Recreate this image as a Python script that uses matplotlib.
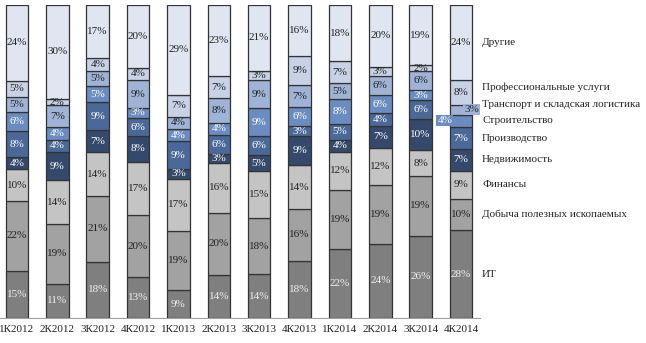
import matplotlib.pyplot as plt
import numpy as np

quarters = ['1К2012', '2К2012', '3К2012', '4К2012', '1К2013', '2К2013',
            '3К2013', '4К2013', '1К2014', '2К2014', '3К2014', '4К2014']

# sectors from bottom to top
sectors = ['ИТ', 'Добыча полезных ископаемых', 'Финансы', 'Недвижимость',
           'Производство', 'Строительство', 'Транспорт и складская логистика',
           'Профессиональные услуги', 'Другие']

it = [15, 11, 18, 13, 9, 14, 14, 18, 22, 24, 26, 28]
mining = [22, 19, 21, 20, 19, 20, 18, 16, 19, 19, 19, 10]
finance = [10, 14, 14, 17, 17, 16, 15, 14, 12, 12, 8, 9]
realty = [4, 9, 7, 8, 3, 3, 5, 9, 4, 7, 10, 7]
manufacturing = [8, 4, 9, 6, 9, 6, 6, 3, 5, 4, 6, 7]
construction = [6, 4, 5, 3, 4, 4, 9, 6, 8, 6, 3, 4]
transport = [5, 7, 5, 9, 4, 8, 9, 7, 5, 6, 6, 3]
professional = [5, 2, 4, 4, 7, 7, 3, 9, 7, 3, 2, 8]
other = [24, 30, 17, 20, 29, 23, 21, 16, 18, 20, 19, 24]

series = [it, mining, finance, realty, manufacturing, construction,
          transport, professional, other]
colors = ['#7f7f7f', '#a2a2a2', '#c4c4c4', '#34496c', '#4a6898',
          '#6b8cc0', '#9fb3d6', '#c7d2e6', '#dfe5f1']
text_colors = ['#f0f0f0', '#222222', '#222222', '#ffffff', '#ffffff',
               '#ffffff', '#222222', '#222222', '#222222']

serif = 'Liberation Serif'

fig = plt.figure(figsize=(6.46, 3.43), dpi=100)
ax = fig.add_axes([0, 1 - 318 / 343, 480 / 646, 313 / 343])

x = np.arange(len(quarters))
data = np.array(series, dtype=float)
totals = data.sum(axis=0)
shares = data / totals * 100  # 100% stacked

bottom = np.zeros(len(quarters))
for vals, h, col, tcol in zip(data, shares, colors, text_colors):
    ax.bar(x, h, bottom=bottom, width=0.56, color=col,
           edgecolor='#333333', linewidth=0.9)
    for i, v in enumerate(vals):
        xi = x[i]
        box = None
        # last bar: the two thin segments are labelled aside
        if i == len(quarters) - 1 and col == colors[5]:
            xi -= 0.4
            box = dict(facecolor=col, edgecolor='none', pad=0.8)
        if i == len(quarters) - 1 and col == colors[6]:
            xi += 0.27
            box = dict(facecolor=col, edgecolor='none', pad=0.8)
        ax.text(xi, bottom[i] + h[i] / 2, f'{int(v)}%', ha='center',
                va='center', fontsize=8, color=tcol, family=serif, bbox=box)
    bottom += h

# legend labels next to the last bar
last = shares[:, -1]
mids = np.cumsum(last) - last / 2
ys = list(mids)
for k in range(1, len(ys)):
    if ys[k] - ys[k - 1] < 5.3:
        ys[k] = ys[k - 1] + 5.3
for name, y in zip(sectors, ys):
    ax.text(11.52, y, name, ha='left', va='center', fontsize=8,
            color='#222222', family=serif, clip_on=False)

ax.set_xlim(-0.42, 11.47)
ax.set_ylim(0, 100)
ax.set_xticks(x)
ax.set_xticklabels(quarters, family=serif, fontsize=8, color='#222222')
ax.tick_params(axis='x', length=0, pad=5)
ax.set_yticks([])
for side in ['top', 'right', 'left']:
    ax.spines[side].set_visible(False)
ax.spines['bottom'].set_color('#a0a0a0')

fig.savefig('out.png', dpi=100)
